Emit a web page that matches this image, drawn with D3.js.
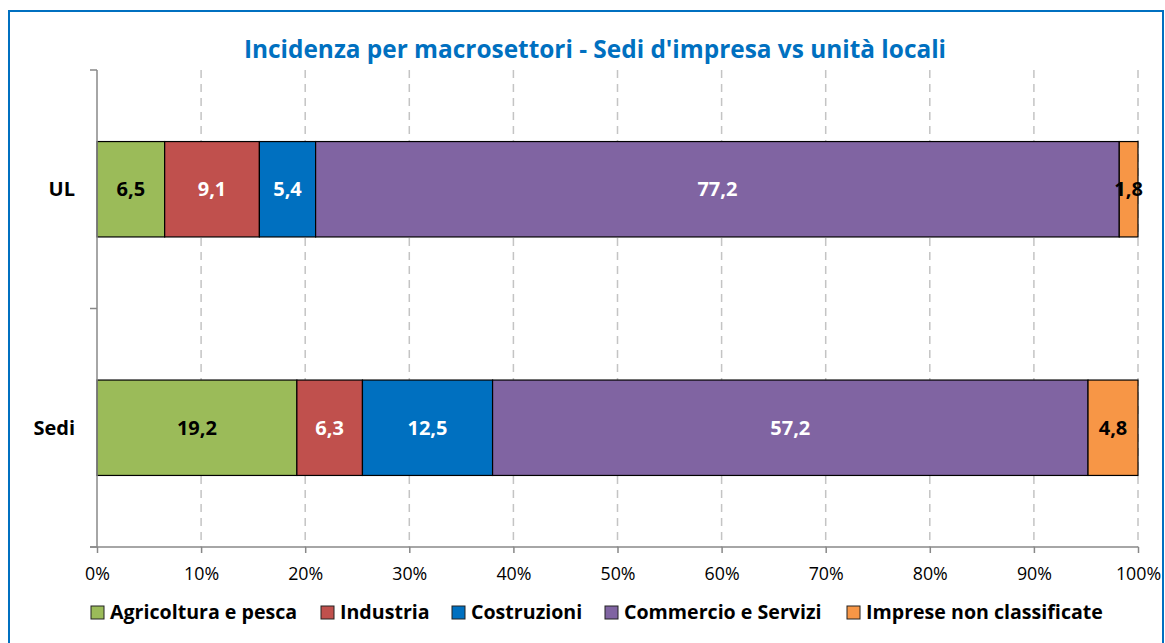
<!DOCTYPE html>
<html>
<head>
<meta charset="utf-8">
<script src="https://cdn.jsdelivr.net/npm/d3@7"></script>
<style>
  body { margin: 0; background: #fff; }
  svg { display: block; font-family: "Open Sans", Lato, sans-serif; }
</style>
</head>
<body>
<svg id="chart" width="1165" height="643"></svg>
<script>
const categories = ["UL", "Sedi"];
const series = ["Agricoltura e pesca", "Industria", "Costruzioni", "Commercio e Servizi", "Imprese non classificate"];
const colors = ["#9BBB59", "#C0504D", "#0070C0", "#8064A2", "#F79646"];
const labelColors = ["#000", "#fff", "#fff", "#fff", "#000"];
const valuesUL = [6.5, 9.1, 5.4, 77.2, 1.8];
const valuesSedi = [19.2, 6.3, 12.5, 57.2, 4.8];
const xTicks = [0, 10, 20, 30, 40, 50, 60, 70, 80, 90, 100];

const svg = d3.select("#chart");

// outer blue frame
svg.append("rect")
  .attr("x", 9).attr("y", 11)
  .attr("width", 1154).attr("height", 640)
  .attr("fill", "none")
  .attr("stroke", "#0070C0")
  .attr("stroke-width", 2);

svg.append("text")
  .attr("x", 595).attr("y", 58)
  .attr("text-anchor", "middle")
  .attr("font-size", 24.4)
  .attr("font-weight", "bold")
  .attr("fill", "#0070C0")
  .text("Incidenza per macrosettori - Sedi d'impresa vs unità locali");

const plotLeft = 97, plotRight = 1138, plotTop = 70, plotBottom = 547;

const x = d3.scaleLinear().domain([0, 100]).range([plotLeft, plotRight]);
const y = d3.scaleBand().domain(categories).range([plotTop, plotBottom]).paddingInner(0.6).paddingOuter(0.3);

// dashed gridlines
svg.append("g")
  .selectAll("line")
  .data(xTicks.slice(1))
  .join("line")
  .attr("x1", d => x(d)).attr("x2", d => x(d))
  .attr("y1", plotTop).attr("y2", plotBottom)
  .attr("stroke", "#C4C4C4")
  .attr("stroke-width", 1.5)
  .attr("stroke-dasharray", "8,6");

// stacked bars
const rows = [valuesUL, valuesSedi];
rows.forEach((vals, i) => {
  const cat = categories[i];
  let acc = 0;
  const segs = vals.map((v, j) => {
    const s = { v: v, j: j, x0: acc, x1: acc + v };
    acc += v;
    return s;
  });
  const g = svg.append("g");
  g.selectAll("rect")
    .data(segs)
    .join("rect")
    .attr("x", d => x(d.x0))
    .attr("y", y(cat))
    .attr("width", d => x(d.x1) - x(d.x0))
    .attr("height", y.bandwidth())
    .attr("fill", d => colors[d.j])
    .attr("stroke", "#000")
    .attr("stroke-width", 1.2);
  g.selectAll("text")
    .data(segs)
    .join("text")
    .attr("x", d => (x(d.x0) + x(d.x1)) / 2)
    .attr("y", y(cat) + y.bandwidth() / 2)
    .attr("dy", "0.36em")
    .attr("text-anchor", "middle")
    .attr("font-size", 20)
    .attr("font-weight", "bold")
    .attr("fill", d => labelColors[d.j])
    .text(d => d3.format(".1f")(d.v).replace(".", ","));
});

// y axis
const yAxisG = svg.append("g");
yAxisG.append("line")
  .attr("x1", plotLeft).attr("x2", plotLeft)
  .attr("y1", plotTop).attr("y2", plotBottom)
  .attr("stroke", "#888").attr("stroke-width", 1.5);
const yTickPos = [plotTop, (plotTop + plotBottom) / 2, plotBottom];
yAxisG.selectAll("line.t")
  .data(yTickPos)
  .join("line")
  .attr("class", "t")
  .attr("x1", plotLeft - 7).attr("x2", plotLeft)
  .attr("y1", d => d).attr("y2", d => d)
  .attr("stroke", "#888").attr("stroke-width", 1.5);
yAxisG.selectAll("text")
  .data(categories)
  .join("text")
  .attr("x", 75)
  .attr("y", d => y(d) + y.bandwidth() / 2)
  .attr("dy", "0.36em")
  .attr("text-anchor", "end")
  .attr("font-size", 20)
  .attr("font-weight", "bold")
  .text(d => d);

// x axis
const xAxis = d3.axisBottom(x)
  .tickValues(xTicks)
  .tickSize(6)
  .tickPadding(14)
  .tickFormat(d => d + "%");
const xg = svg.append("g")
  .attr("transform", `translate(0,${plotBottom})`)
  .call(xAxis);
xg.select(".domain").remove();
xg.append("line")
  .attr("x1", plotLeft - 7).attr("x2", plotRight)
  .attr("stroke", "#888").attr("stroke-width", 1.5);
xg.selectAll(".tick line").attr("stroke", "#888").attr("stroke-width", 1.5);
xg.selectAll(".tick text")
  .attr("font-size", 17.8)
  .attr("font-family", "'Open Sans', Lato, sans-serif")
  .attr("fill", "#000");

// legend
const legendX = [91, 321, 452, 605, 847];
const lg = svg.append("g").attr("transform", "translate(0,612)");
const items = lg.selectAll("g")
  .data(series)
  .join("g")
  .attr("transform", (d, i) => `translate(${legendX[i]},0)`);
items.append("rect")
  .attr("x", 0).attr("y", -6)
  .attr("width", 13).attr("height", 13)
  .attr("fill", (d, i) => colors[i])
  .attr("stroke", "#222").attr("stroke-width", 1);
items.append("text")
  .attr("x", 19)
  .attr("y", 7)
  .attr("font-size", 19.6)
  .attr("font-weight", "bold")
  .text(d => d);
</script>
</body>
</html>
